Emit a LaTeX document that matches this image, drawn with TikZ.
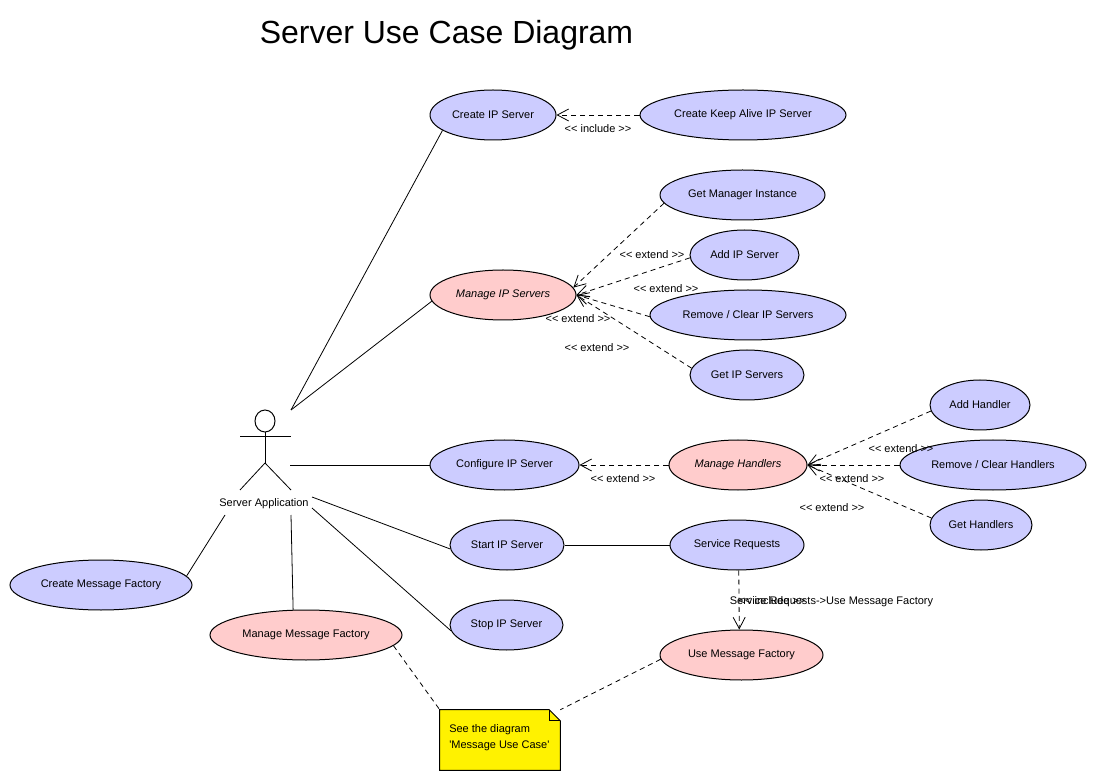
\documentclass[tikz,border=0pt]{standalone}
\usepackage{fontspec}
\setmainfont{Liberation Sans}[Ligatures=TeXOff]
\usetikzlibrary{shapes.geometric,arrows.meta}
\definecolor{ucblue}{RGB}{204,204,255}
\definecolor{ucpink}{RGB}{255,204,204}
\tikzset{
  x=0.75pt,y=-0.75pt,
  every node/.style={font=\fontsize{8.25pt}{9pt}\selectfont},
  uc/.style={ellipse,draw=black,line width=0.75pt,fill=ucblue,inner sep=0pt,minimum height=37.5pt},
  ucp/.style={uc,fill=ucpink},
  plainline/.style={line width=0.6pt},
  dep/.style={line width=0.6pt,dash pattern=on 3.8pt off 3pt},
  open/.style={-{Straight Barb[length=8.5pt,width=9pt,line width=0.6pt]}},
  lab/.style={inner sep=0pt},
}
\begin{document}
\begin{tikzpicture}
\useasboundingbox (0,0) rectangle (1096,780);
\fill[white] (0,0) rectangle (1096,780);
\node[lab,font=\fontsize{24pt}{28pt}\selectfont] (title) at (446.5,35) {Server Use Case Diagram};

\node[uc,minimum width=94.5pt] (cip) at (493,115) {Create IP Server};
\node[uc,minimum width=154.5pt] (cka) at (743,115) {Create Keep Alive IP Server};
\node[uc,minimum width=123.75pt] (gmi) at (742.5,195) {Get Manager Instance};
\node[uc,minimum width=81.75pt] (aip) at (744.5,255) {Add IP Server};
\node[ucp,minimum width=109.5pt,font=\fontsize{8.25pt}{9pt}\selectfont\itshape] (mip) at (503,295) {Manage IP Servers};
\node[uc,minimum width=147pt] (rip) at (748,315) {Remove / Clear IP Servers};
\node[uc,minimum width=85.5pt] (gip) at (747,375) {Get IP Servers};
\node[uc,minimum width=111.75pt] (conf) at (504.5,465) {Configure IP Server};
\node[ucp,minimum width=103.5pt,font=\fontsize{8.25pt}{9pt}\selectfont\itshape] (mh) at (738,465) {Manage Handlers};
\node[uc,minimum width=75pt] (ah) at (980,405) {Add Handler};
\node[uc,minimum width=139.5pt] (rh) at (993,465) {Remove / Clear Handlers};
\node[uc,minimum width=76.5pt] (gh) at (981,525) {Get Handlers};
\node[uc,minimum width=85.5pt] (start) at (507,545) {Start IP Server};
\node[uc,minimum width=100.5pt] (sr) at (737,545) {Service Requests};
\node[uc,minimum width=84.75pt] (stop) at (506.5,625) {Stop IP Server};
\node[uc,minimum width=136.5pt] (cmf) at (101,585) {Create Message Factory};
\node[ucp,minimum width=144pt] (mmf) at (306,635) {Manage Message Factory};
\node[ucp,minimum width=122.25pt] (umf) at (741.5,655) {Use Message Factory};

% actor
\node[ellipse,draw=black,line width=0.75pt,fill=white,inner sep=0pt,minimum width=15pt,minimum height=16.5pt] (head) at (265,421) {};
\coordinate (shl) at (240,436);
\coordinate (shr) at (291,436);
\coordinate (hip) at (265,463);
\coordinate (footl) at (240,490);
\coordinate (footr) at (291,490);
\draw[plainline] (shl) -- (shr);
\draw[plainline] (head) -- (hip);
\draw[plainline] (hip) -- (footl);
\draw[plainline] (hip) -- (footr);
\node[lab] (actor) at (264,504) {Server Application};

\coordinate (a1) at (291,410);
\coordinate (a2) at (290,465);
\coordinate (a3) at (312,497);
\coordinate (a4) at (312,508);
\coordinate (a5) at (291,515);
\coordinate (a6) at (225,515);

\draw[plainline] (a1) -- (cip.197.4);
\draw[plainline] (a1) -- (mip.185.7);
\draw[plainline] (a2) -- (conf.west);
\draw[plainline] (a3) -- (start.184);
\draw[plainline] (a4) -- (stop.186);
\draw[plainline] (a5) -- (mmf.117.6);
\draw[plainline] (a6) -- (cmf.6.9);
\draw[plainline] (start.east) -- (sr.west);

% note
\node[minimum width=90pt,minimum height=45pt,inner sep=0pt] (note) at (500,740) {};
\fill[yellow] (note.north west) -- ([xshift=-8.25pt]note.north east) -- ([yshift=-8.25pt]note.north east) -- (note.south east) -- (note.south west) -- cycle;
\draw[line width=0.75pt] (note.north west) -- ([xshift=-8.25pt]note.north east) -- ([yshift=-8.25pt]note.north east) -- (note.south east) -- (note.south west) -- cycle;
\draw[line width=0.75pt] ([xshift=-8.25pt]note.north east) -- ([xshift=-8.25pt,yshift=-8.25pt]note.north east) -- ([yshift=-8.25pt]note.north east);
\node[lab,align=left,anchor=north west,font=\fontsize{8.25pt}{12pt}\selectfont] (notetext) at (449,724) {See the diagram\\'Message Use Case'};

% dependencies
\draw[dep,open] (cka.west) -- (cip.east);
\draw[dep,open] (gmi.186) -- (mip.6.9);
\draw[dep,open] (aip.183) -- (mip.east);
\draw[dep,open] (rip.181.7) -- (mip.east);
\draw[dep,open] (gip.173) -- (mip.east);
\draw[dep,open] (mh.west) -- (conf.east);
\draw[dep,open] (ah.187) -- (mh.east);
\draw[dep,open] (rh.west) -- (mh.east);
\draw[dep,open] (gh.172) -- (mh.east);
\draw[dep,open] (sr.274.6) -- (umf.95.7);
\draw[dep] (mmf.-7.4) -- (note.north west);
\draw[dep] (umf.183.6) -- (note.north east);

% labels
\node[lab] (l1) at (598,129) {<< include >>};
\node[lab] (l2) at (652,255) {<< extend >>};
\node[lab] (l3) at (666,289) {<< extend >>};
\node[lab] (l4) at (578,319) {<< extend >>};
\node[lab] (l5) at (597,348) {<< extend >>};
\node[lab] (l6) at (901,449) {<< extend >>};
\node[lab] (l7) at (852,479) {<< extend >>};
\node[lab] (l8) at (832,508) {<< extend >>};
\node[lab] (l9) at (623,479) {<< extend >>};
\node[lab] (l10) at (772,601) {<< include >>};
\node[lab] (l11) at (831.5,602) {Service Requests->Use Message Factory};
\end{tikzpicture}
\end{document}
